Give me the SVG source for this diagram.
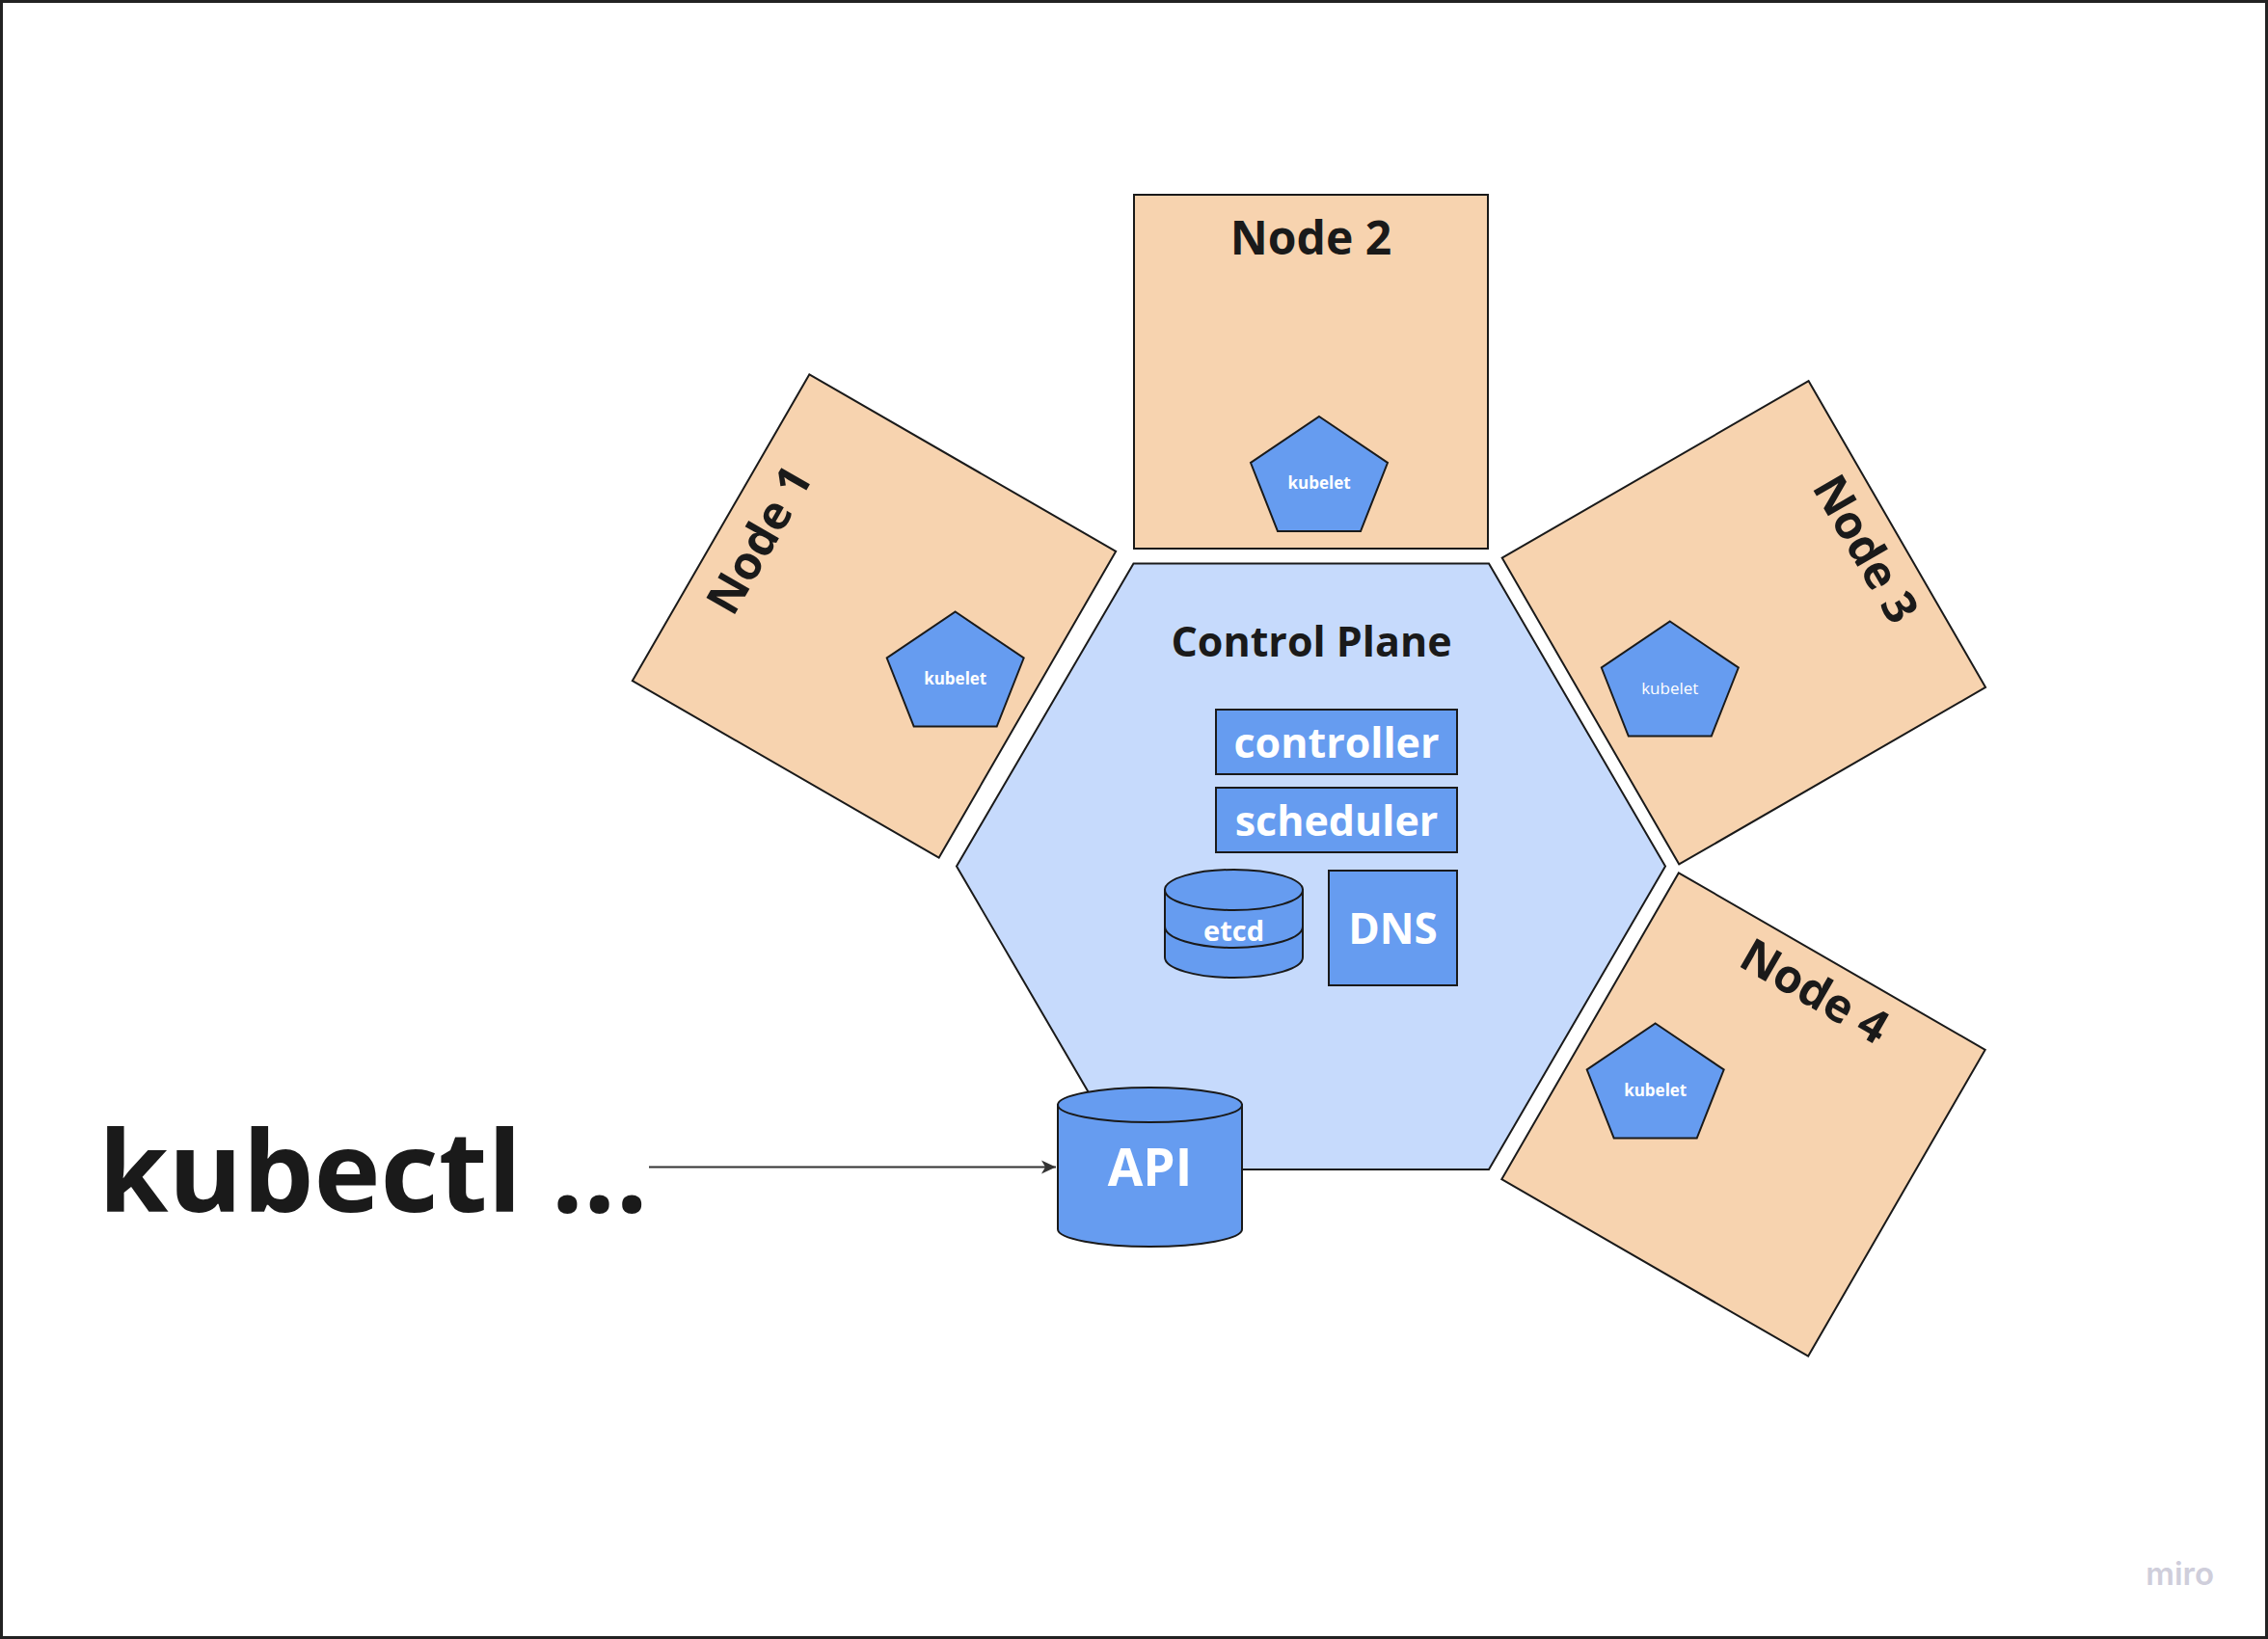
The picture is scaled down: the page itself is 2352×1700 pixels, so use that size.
<svg xmlns="http://www.w3.org/2000/svg" width="2352" height="1700" viewBox="0 0 2352 1700">
  <defs>
    <style>
      .node { fill: #F7D3AF; stroke: #1a1a1a; stroke-width: 2; }
      .hex { fill: #C6DAFC; stroke: #1a1a1a; stroke-width: 2; }
      .blue { fill: #669CF0; stroke: #1a1a1a; stroke-width: 2; }
      .line { fill: none; stroke: #1a1a1a; stroke-width: 2; }
      .title { font-family: "Open Sans", "Noto Sans", sans-serif; font-weight: 700; fill: #1a1a1a; text-anchor: middle; }
      .wt { font-family: "Open Sans", "Noto Sans", sans-serif; font-weight: 700; fill: #ffffff; text-anchor: middle; }
      .kub { font-size: 17px; }
      .reg { font-weight: 400; }
      .ntitle { font-size: 48px; }
    </style>
    <marker id="arrow" markerWidth="20" markerHeight="20" refX="16" refY="8" orient="auto" markerUnits="userSpaceOnUse">
      <path d="M1,1 L16,8 L1,15 L5,8 Z" fill="#333333"/>
    </marker>
    <polygon id="pent" points="0,0 71,48 43,119 -43,119 -71,48"/>
  </defs>

  <rect x="1.5" y="1.5" width="2349" height="1697" fill="#ffffff" stroke="#222222" stroke-width="3"/>

  <g id="control-plane">
    <polygon class="hex" points="1175.5,584.5 1544,584.5 1727,898.5 1544,1213 1175.5,1213 992,898.5"/>
    <text class="title" x="1360" y="681" font-size="43">Control Plane</text>
  </g>

  <g id="controller">
    <rect class="blue" x="1261" y="736" width="250" height="67"/>
    <text class="wt" x="1386" y="786" font-size="43">controller</text>
  </g>

  <g id="scheduler">
    <rect class="blue" x="1261" y="817" width="250" height="67"/>
    <text class="wt" x="1386" y="867" font-size="43">scheduler</text>
  </g>

  <g id="etcd">
    <path class="blue" d="M1208,923 L1208,993 A71.5,21 0 0 0 1351,993 L1351,923 Z"/>
    <ellipse class="blue" cx="1279.5" cy="923" rx="71.5" ry="21"/>
    <path class="line" d="M1208,961 A71.5,22 0 0 0 1351,961"/>
    <text class="wt" x="1279.5" y="976" font-size="29">etcd</text>
  </g>

  <g id="dns">
    <rect class="blue" x="1378" y="903" width="133" height="119"/>
    <text class="wt" x="1444.5" y="979" font-size="44">DNS</text>
  </g>

  <g id="node1">
    <g transform="translate(906.5,639) rotate(-60)">
      <rect class="node" x="-183.5" y="-183.5" width="367" height="367"/>
      <text class="title ntitle" x="9" y="-126">Node 1</text>
    </g>
    <g id="kubelet1">
      <use href="#pent" class="blue" x="990.7" y="634.5"/>
      <text class="wt kub" x="990.7" y="709.5">kubelet</text>
    </g>
  </g>

  <g id="node2">
    <g transform="translate(1359.5,385.5)">
      <rect class="node" x="-183.5" y="-183.5" width="367" height="367"/>
      <text class="title ntitle" x="0" y="-121.5">Node 2</text>
    </g>
    <g id="kubelet2">
      <use href="#pent" class="blue" x="1368" y="432"/>
      <text class="wt kub" x="1368" y="507">kubelet</text>
    </g>
  </g>

  <g id="node3">
    <g transform="translate(1808.4,645.8) rotate(60)">
      <rect class="node" x="-183.5" y="-183.5" width="367" height="367"/>
      <text class="title ntitle" x="-3" y="-131">Node 3</text>
    </g>
    <g id="kubelet3">
      <use href="#pent" class="blue" x="1731.8" y="644.5"/>
      <text class="wt kub reg" x="1731.8" y="720">kubelet</text>
    </g>
  </g>

  <g id="node4">
    <g transform="translate(1808,1156) rotate(30)">
      <rect class="node" x="-183.5" y="-183.5" width="367" height="367"/>
      <text class="title ntitle" x="0" y="-131">Node 4</text>
    </g>
    <g id="kubelet4">
      <use href="#pent" class="blue" x="1716.7" y="1061.5"/>
      <text class="wt kub" x="1716.7" y="1136.5">kubelet</text>
    </g>
  </g>

  <g id="api">
    <path class="blue" d="M1097,1146 L1097,1275 A95.5,18 0 0 0 1288,1275 L1288,1146 Z"/>
    <ellipse class="blue" cx="1192.5" cy="1146" rx="95.5" ry="18"/>
    <text class="wt" x="1192.5" y="1230" font-size="53">API</text>
  </g>

  <g id="kubectl">
    <text x="102" y="1256.5" font-family="Open Sans, Noto Sans, sans-serif" font-weight="700" font-size="117" fill="#1a1a1a">kubectl ...</text>
  </g>

  <g id="connectors">
    <line x1="673" y1="1210.5" x2="1095" y2="1210.5" stroke="#333333" stroke-width="2" marker-end="url(#arrow)"/>
  </g>

  <text x="2296" y="1644" text-anchor="end" font-family="Inter, Lato, sans-serif" font-weight="600" font-size="33" fill="#CFCEDB">miro</text>
</svg>
